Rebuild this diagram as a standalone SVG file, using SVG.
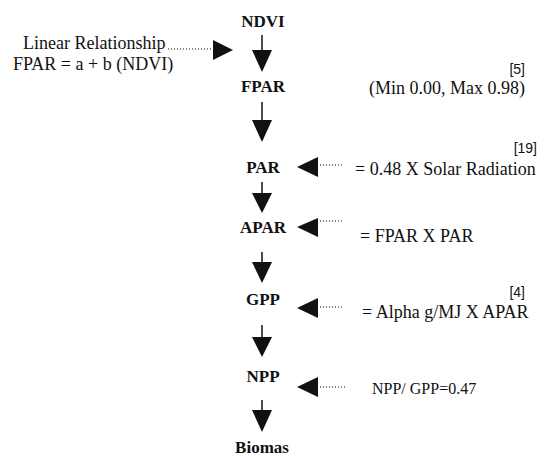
<svg xmlns="http://www.w3.org/2000/svg" width="544" height="457" viewBox="0 0 544 457">
<style>
.node{font-family:"Liberation Serif","Times New Roman",serif;font-weight:bold;font-size:17px;fill:#111;text-anchor:middle}
.lbl{font-family:"Liberation Serif","Times New Roman",serif;font-size:18px;fill:#111}
.ref{font-family:"Liberation Sans",Arial,sans-serif;font-size:14px;fill:#111;text-anchor:end}
.stem{stroke:#111;stroke-width:1.5;fill:none}
.dot{stroke:#111;stroke-width:1.2;stroke-dasharray:1 2;fill:none}
.head{fill:#111}
</style>
<rect width="544" height="457" fill="#fff"/>
<g id="node-ndvi"><text class="node" x="263" y="27">NDVI</text></g>
<g id="node-fpar"><text class="node" x="263" y="92">FPAR</text></g>
<g id="node-par"><text class="node" x="263" y="173">PAR</text></g>
<g id="node-apar"><text class="node" x="263" y="233">APAR</text></g>
<g id="node-gpp"><text class="node" x="263" y="305">GPP</text></g>
<g id="node-npp"><text class="node" x="263" y="382">NPP</text></g>
<g id="node-biomas"><text class="node" x="262" y="453">Biomas</text></g>
<g id="labels">
<text class="lbl" x="23" y="49">Linear Relationship</text>
<text class="lbl" x="13" y="70">FPAR = a + b (NDVI)</text>
<text class="ref" x="525" y="74">[5]</text>
<text class="lbl" x="525" y="94" text-anchor="end">(Min 0.00, Max 0.98)</text>
<text class="ref" x="537" y="153">[19]</text>
<text class="lbl" x="355" y="175">= 0.48 X Solar Radiation</text>
<text class="lbl" x="360" y="242">= FPAR X PAR</text>
<text class="ref" x="525" y="297">[4]</text>
<text class="lbl" x="362" y="318">= Alpha g/MJ X APAR</text>
<text class="lbl" x="372" y="394" style="font-size:16px">NPP/ GPP=0.47</text>
</g>
<g id="connectors">
<line class="stem" x1="262" y1="35" x2="262" y2="52"/><polygon class="head" points="252,50 272,50 262,72"/>
<line class="stem" x1="262" y1="102" x2="262" y2="122"/><polygon class="head" points="252,120 272,120 262,142"/>
<line class="stem" x1="262" y1="182" x2="262" y2="195"/><polygon class="head" points="252,193 272,193 262,213"/>
<line class="stem" x1="262" y1="252" x2="262" y2="264"/><polygon class="head" points="252,262 272,262 262,283"/>
<line class="stem" x1="262" y1="325" x2="262" y2="339"/><polygon class="head" points="252,337 272,337 262,357"/>
<line class="stem" x1="262" y1="400" x2="262" y2="412"/><polygon class="head" points="252,410 272,410 262,432"/>
<line class="dot" x1="168" y1="49" x2="212" y2="49"/><polygon class="head" points="213,40 213,60 233,50"/>
<line class="dot" x1="320" y1="165" x2="342" y2="165"/><polygon class="head" points="318,157 318,177 297,167"/>
<line class="dot" x1="320" y1="221" x2="342" y2="221"/><polygon class="head" points="318,218 318,237 297,227"/>
<line class="dot" x1="320" y1="307" x2="344" y2="307"/><polygon class="head" points="318,298 318,318 297,308"/>
<line class="dot" x1="320" y1="387" x2="346" y2="387"/><polygon class="head" points="318,377 318,397 297,387"/>
</g>
</svg>
